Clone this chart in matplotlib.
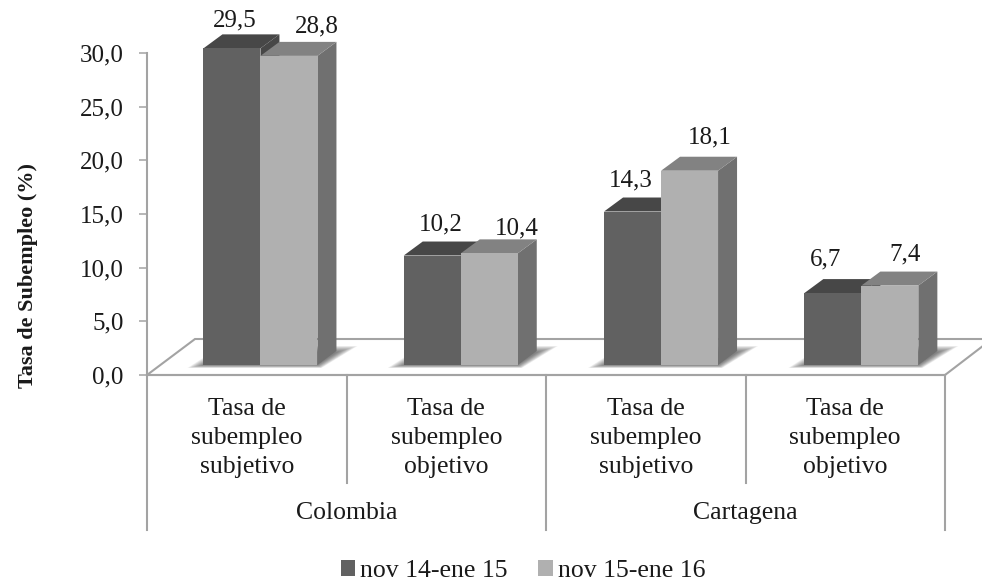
#!/usr/bin/python3

import numpy as np
import matplotlib
matplotlib.use('Agg')
import matplotlib.pyplot as plt
from matplotlib.patches import Polygon

plt.rcParams['font.family'] = ['Liberation Serif', 'DejaVu Serif']

series_names = ['nov 14-ene 15', 'nov 15-ene 16']
values_a = [29.5, 10.2, 14.3, 6.7]
values_b = [28.8, 10.4, 18.1, 7.4]
categories = ['Tasa de\nsubempleo\nsubjetivo', 'Tasa de\nsubempleo\nobjetivo',
              'Tasa de\nsubempleo\nsubjetivo', 'Tasa de\nsubempleo\nobjetivo']
groups = ['Colombia', 'Cartagena']
y_ticks = [0, 5, 10, 15, 20, 25, 30]

# pixel shift of each value label from the top of its bar
label_shift_a = [(3, -28), (9, -31), (-2, -31), (-7, -34)]
label_shift_b = [(28, -29), (28, -25), (20, -33), (15, -31)]

W, H = 982, 584
LEFT, RIGHT = 147, 945
ZERO, TOP = 375, 53
GREY = '#a3a3a3'
TEXT = '#1a1a1a'

fig = plt.figure(figsize=(W / 100, H / 100), dpi=100)
ax = fig.add_axes([LEFT / W, 1 - ZERO / H, (RIGHT - LEFT) / W, (ZERO - TOP) / H])
ax.set_xlim(0, len(categories))
ax.set_ylim(0, 30)
ax.patch.set_visible(False)

px_x = len(categories) / (RIGHT - LEFT)
px_y = 30 / (ZERO - TOP)


def xd(px):
    return (px - LEFT) * px_x


def yd(py):
    return (ZERO - py) * px_y


DEPTH_X = 19 * px_x
DEPTH_Y = 14 * px_y
LIFT = 10 * px_y
BAR_W = 57 * px_x
SHIFT = 13.7 * px_x
STEP = 200.3 * px_x


def poly(points, color, z=2, **kw):
    ax.add_patch(Polygon(points, closed=True, facecolor=color, edgecolor=kw.pop('edge', 'none'),
                         clip_on=False, zorder=z, **kw))


def draw_3d_bars(x, values, front, top, side):
    bars = ax.bar(x, values, BAR_W, bottom=LIFT, align='edge', color=front, zorder=4, clip_on=False)
    for xi, v in zip(x, values):
        y0, y1 = LIFT, LIFT + v
        x1 = xi + BAR_W
        poly([(x1, y0), (x1 + DEPTH_X, y0 + DEPTH_Y), (x1 + DEPTH_X, y1 + DEPTH_Y), (x1, y1)], side, 3)
        poly([(xi, y1), (xi + DEPTH_X, y1 + DEPTH_Y), (x1 + DEPTH_X, y1 + DEPTH_Y), (x1, y1)], top, 3)
    return bars


# floor of the 3d chart
poly([(xd(147), yd(375)), (xd(195), yd(339)), (xd(992), yd(339)), (xd(945), yd(375))],
     'white', 1, edge=GREY, linewidth=1.5)

centers = 0.5 + SHIFT + np.arange(len(categories)) * STEP
x_a = centers - BAR_W
x_b = centers

# soft shadows on the floor, stacked from the wide pale edge to the dark core
for c in centers:
    x0, x1 = c - BAR_W, c + BAR_W
    for t in np.linspace(0, 1, 12):
        poly([(x0 - 16 * (1 - t) * px_x, LIFT - 3 * (1 - t) * px_y),
              (x1 + 4 * (1 - t) * px_x, LIFT - 3 * (1 - t) * px_y),
              (x1 + (40 - 20 * t) * px_x, LIFT + (19 - 6 * t) * px_y),
              (x0 + (18 + 6 * t) * px_x, LIFT + (19 - 6 * t) * px_y)],
             '#303030', 2, alpha=0.07)

bars_a = draw_3d_bars(x_a, values_a, '#616161', '#474747', '#474747')
bars_b = draw_3d_bars(x_b, values_b, '#b0b0b0', '#828282', '#707070')

for xs, vals, shifts in [(x_a, values_a, label_shift_a), (x_b, values_b, label_shift_b)]:
    for xi, v, (dx, dy) in zip(xs, vals, shifts):
        ax.annotate(f'{v:.1f}'.replace('.', ','), (xi + BAR_W / 2, LIFT + v), xytext=(dx, -dy),
                    textcoords='offset pixels', ha='center', va='center', fontsize=18,
                    color=TEXT, annotation_clip=False, zorder=6)

# axes
for s in ['top', 'right']:
    ax.spines[s].set_visible(False)
for s in ['left', 'bottom']:
    ax.spines[s].set_color(GREY)
    ax.spines[s].set_linewidth(1.5)
ax.spines['bottom'].set_zorder(1.5)
ax.set_xticks([])
ax.set_yticks(y_ticks, [f'{t:.1f}'.replace('.', ',') for t in y_ticks], fontsize=18, color=TEXT)
ax.tick_params(axis='y', length=5.8, width=1.1, color=GREY, pad=11)
ax.set_ylabel('Tasa de Subempleo (%)', fontsize=16, fontweight='bold', color=TEXT, va='center')
ax.yaxis.set_label_coords((28 - LEFT) / (RIGHT - LEFT), (ZERO - 275) / (ZERO - TOP))

# multi level category axis
for i in range(len(categories) + 1):
    bottom = 530 if i % 2 == 0 else 483
    ax.plot([i, i], [0, yd(bottom)], color=GREY, lw=1.5, clip_on=False, zorder=1)

for i, label in enumerate(categories):
    ax.text(i + 0.5, yd(438), label, ha='center', va='center', fontsize=18.5, color=TEXT,
            linespacing=1.43)
for i, label in enumerate(groups):
    ax.text(2 * i + 1, yd(513), label, ha='center', va='center', fontsize=18.5, color=TEXT)

fig.legend([bars_a[0], bars_b[0]], series_names, loc='center', bbox_to_anchor=(523 / W, 1 - 571 / H),
           ncol=2, frameon=False, fontsize=18.5, labelcolor=TEXT, handlelength=0.55, handleheight=0.55,
           handletextpad=0.2, columnspacing=1.2, borderpad=0)

fig.savefig('out.png', dpi=100)
